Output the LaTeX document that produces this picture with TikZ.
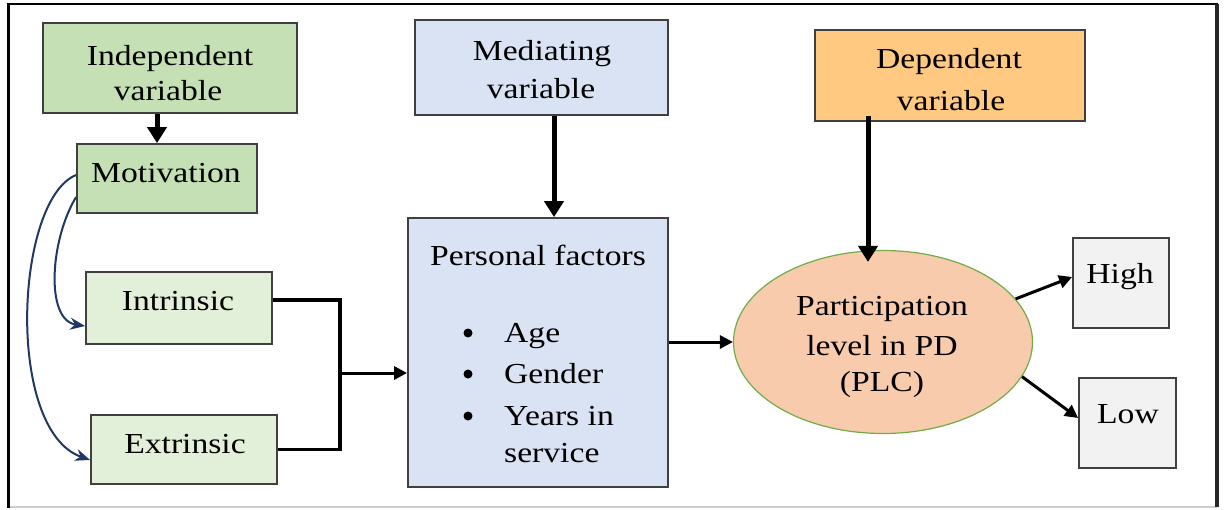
\documentclass[tikz,border=0pt]{standalone}
\usepackage{fontspec}
\setmainfont{Liberation Serif}[FakeStretch=1.16]
\usetikzlibrary{arrows.meta,shapes.geometric,calc}
\definecolor{gdark}{HTML}{C5E0B4}
\definecolor{glight}{HTML}{E2F0D9}
\definecolor{bluef}{HTML}{DAE3F3}
\definecolor{orangef}{HTML}{FFC982}
\definecolor{peach}{HTML}{F8CBAD}
\definecolor{ellgreen}{HTML}{70AD47}
\definecolor{grayf}{HTML}{F2F2F2}
\definecolor{boxline}{HTML}{404040}
\definecolor{navy}{HTML}{203864}
\tikzset{
  box/.style={draw=boxline,line width=1.8pt,inner sep=0pt,rectangle},
  txt/.style={anchor=base,inner sep=0pt,font=\fontsize{29}{35}\selectfont},
  ltxt/.style={anchor=base west,inner sep=0pt,font=\fontsize{29}{35}\selectfont},
  dot/.style={circle,fill=black,inner sep=0pt,minimum size=9pt},
  bigarrow/.style={line width=5pt,-{Triangle[length=16pt,width=19pt]}},
  medarrow/.style={line width=3pt,-{Triangle[length=13pt,width=13pt]}},
  elbow/.style={line width=3.5pt},
  curvearrow/.style={draw=navy,line width=2pt,-{Stealth[length=15pt,width=12pt]}}
}
\begin{document}
\begin{tikzpicture}[x=1pt,y=-1pt]
\useasboundingbox (0,0) rectangle (1224,509);
% frame
\draw[line width=1.5pt,black!20] (8,507) -- (1217,507);
\draw[line width=2.5pt,line cap=rect] (8.5,4) -- (8.5,507);
\draw[line width=2.5pt,line cap=rect] (8.5,4) -- (1217,4);
\draw[line width=3.5pt,black!85] (1217,4) -- (1217,507);
% boxes
\node[box,fill=gdark,minimum width=254pt,minimum height=90pt] (ind) at (170,68) {};
\node[box,fill=gdark,minimum width=180pt,minimum height=69pt] (mot) at (167,178.5) {};
\node[box,fill=glight,minimum width=186pt,minimum height=72pt] (intr) at (179,308) {};
\node[box,fill=glight,minimum width=186pt,minimum height=69pt] (ext) at (184,449.5) {};
\node[box,fill=bluef,minimum width=253pt,minimum height=95pt] (med) at (541.5,67.5) {};
\node[box,fill=bluef,minimum width=260pt,minimum height=269pt] (pf) at (538,352.5) {};
\node[box,fill=orangef,minimum width=270pt,minimum height=91pt] (dep) at (950,75.5) {};
\node[ellipse,draw=ellgreen,line width=1.2pt,fill=peach,inner sep=0pt,minimum width=299pt,minimum height=183pt] (ell) at (883,342) {};
\node[box,fill=grayf,minimum width=96pt,minimum height=90pt] (high) at (1121,283) {};
\node[box,fill=grayf,minimum width=97pt,minimum height=90pt] (low) at (1127.5,423) {};
% texts
\node[txt] (tind1) at (170,65) {Independent};
\node[txt] (tind2) at (168,100) {variable};
\node[txt] (tmot) at (166,182) {Motivation};
\node[txt] (tintr) at (178,310) {Intrinsic};
\node[txt] (text) at (185,453) {Extrinsic};
\node[txt] (tmed1) at (542,60) {Mediating};
\node[txt] (tmed2) at (541,98) {variable};
\node[txt] (tpf) at (538,265) {Personal factors};
\node[dot] (b1) at (468,333) {};
\node[dot] (b2) at (468,374) {};
\node[dot] (b3) at (468,416) {};
\node[ltxt] (tage) at (504,342) {Age};
\node[ltxt] (tgen) at (504,383) {Gender};
\node[ltxt] (tyrs) at (504,425) {Years in};
\node[ltxt] (tsrv) at (504,462) {service};
\node[txt] (tdep1) at (949,68) {Dependent};
\node[txt] (tdep2) at (951,110) {variable};
\node[txt] (tell1) at (882,315) {Participation};
\node[txt] (tell2) at (882,355) {level in PD};
\node[txt] (tell3) at (882,391) {(PLC)};
\node[txt] (thigh) at (1120,283) {High};
\node[txt] (tlow) at (1128,423) {Low};
% connectors
\draw[bigarrow] ([xshift=-13pt]ind.south) -- ([xshift=-13pt]ind.south |- mot.north);
\draw[bigarrow] ([xshift=12.5pt]med.south) -- ([xshift=12.5pt]med.south |- pf.north);
\draw[bigarrow] ([xshift=-82pt,yshift=6pt]dep.south) -- ([xshift=-82pt,yshift=-12pt]dep.south |- ell.north);
\coordinate (jx) at (340,373);
\draw[elbow] ([yshift=8pt]intr.east) -| (jx);
\draw[elbow] (ext.east) -| (jx);
\draw[medarrow] (jx) -- (jx -| pf.west);
\draw[medarrow] (pf.east |- ell.west) -- (ell.west);
\draw[medarrow] (ell.18) -- ([yshift=6pt]high.west);
\draw[medarrow] (ell.-14.5) -- ([yshift=5pt]low.west);
\draw[curvearrow] ([yshift=3.5pt]mot.west) .. controls (15,200) and (5,430) .. ([yshift=-10.5pt]ext.west);
\draw[curvearrow] ([yshift=-18.5pt]mot.west) .. controls (50,240) and (45,320) .. ([yshift=-18pt]intr.west);
\end{tikzpicture}
\end{document}
